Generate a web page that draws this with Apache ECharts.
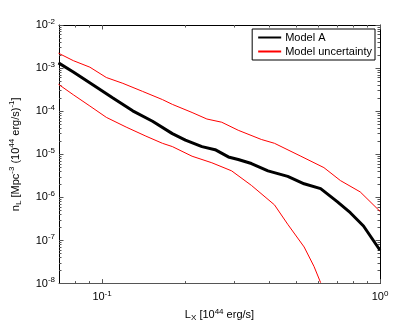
<!DOCTYPE html>
<html lang="en">
<head>
    <meta charset="UTF-8">
    <script src="https://cdn.jsdelivr.net/npm/echarts@6/dist/echarts.min.js"></script>
    <title>Model A</title>
    <style>
        html, body { margin: 0; padding: 0; background: #fff; }
    </style>
</head>
<body>
    <div id="main" style="width: 420px;height:327px;"></div>
    <script>
        // Model A (black)
        var modelAX = [0.0697, 0.0788, 0.0929, 0.1094, 0.1289, 0.1519, 0.1790, 0.1995, 0.2288, 0.2551, 0.2847,
            0.3090, 0.3446, 0.3953, 0.4656, 0.5333, 0.6115, 0.7014, 0.7819, 0.8722, 1.0];
        var modelA = [1.32e-3, 8.13e-4, 4.06e-4, 2.03e-4, 1.02e-4, 5.85e-5, 3.02e-5, 2.14e-5, 1.51e-5, 1.28e-5, 8.69e-6,
            7.59e-6, 6.10e-6, 4.13e-6, 3.07e-6, 2.07e-6, 1.60e-6, 7.96e-7, 4.41e-7, 2.17e-7, 5.93e-8];
        // upper uncertainty
        var upperX = [0.0697, 0.0788, 0.0904, 0.1036, 0.1188, 0.1399, 0.1649, 0.1790, 0.2108, 0.2383, 0.2695,
            0.3090, 0.3741, 0.4172, 0.5192, 0.6284, 0.7203, 0.8488, 1.0];
        var upper = [2.22e-3, 1.49e-3, 1.05e-3, 6.05e-4, 4.43e-4, 2.88e-4, 1.86e-4, 1.44e-4, 9.33e-5, 6.59e-5, 5.55e-5,
            3.61e-5, 2.21e-5, 1.80e-5, 9.02e-6, 4.91e-6, 2.46e-6, 1.34e-6, 4.74e-7];
        // lower uncertainty
        var lowerX = [0.0697, 0.0788, 0.0904, 0.1036, 0.1221, 0.1438, 0.1649, 0.1790, 0.2108, 0.2483, 0.2925,
            0.3446, 0.4172, 0.4656, 0.5333, 0.5787, 0.6115];
        var lower = [4.21e-4, 2.41e-4, 1.32e-4, 7.20e-5, 4.28e-5, 2.64e-5, 1.80e-5, 1.51e-5, 9.02e-6, 6.36e-6, 4.13e-6,
            1.90e-6, 6.71e-7, 2.38e-7, 7.08e-8, 2.51e-8, 1.05e-8];

        // tick values
        var xMajor = [0.1, 1];
        var xMinor = [0.08, 0.09, 0.2, 0.3, 0.4, 0.5, 0.6, 0.7, 0.8, 0.9];
        var yMajor = [1e-8, 1e-7, 1e-6, 1e-5, 1e-4, 1e-3, 1e-2];
        var yMinor = [];
        for (var e = -8; e < -2; e++) {
            for (var k = 2; k <= 9; k++) yMinor.push(k * Math.pow(10, e));
        }

        function pairs(xs, ys) {
            return xs.map(function (x, i) { return [x, ys[i]]; });
        }

        var font = 'Liberation Sans, Arial, Helvetica, sans-serif';
        var rich = {
            b: { fontSize: 11, fontFamily: font, color: '#000' },
            s: { fontSize: 8, fontFamily: font, color: '#000', padding: [0, 0, 7, 0] },
            d: { fontSize: 8, fontFamily: font, color: '#000', padding: [6, 0, 0, 0] }
        };
        function powLabel(v) {
            var ex = Math.round(Math.log10(v));
            return '{b|10}{s|' + ex + '}';
        }

        function xAx(pos, minor, labels) {
            return {
                type: 'log', position: pos, min: 0.07, max: 1, logBase: 10,
                axisLine: { show: !minor, onZero: false, lineStyle: { color: pos === 'bottom' ? '#555' : '#000', width: 1 } },
                axisTick: { show: true, inside: true, length: minor ? 2.5 : 4.5, customValues: minor ? xMinor : xMajor,
                    lineStyle: { color: '#555' } },
                axisLabel: labels ? { show: true, customValues: xMajor, formatter: powLabel, rich: rich, margin: 6 } : { show: false },
                splitLine: { show: false },
                minorTick: { show: false }
            };
        }
        function yAx(pos, minor, labels) {
            return {
                type: 'log', position: pos, min: 1e-8, max: 1e-2, logBase: 10,
                axisLine: { show: !minor, onZero: false, lineStyle: { color: '#000', width: 1 } },
                axisTick: { show: true, inside: true, length: minor ? 2.5 : 4.5, customValues: minor ? yMinor : yMajor,
                    lineStyle: { color: '#555' } },
                axisLabel: labels ? { show: true, customValues: yMajor, formatter: powLabel, rich: rich, margin: 4 } : { show: false },
                splitLine: { show: false },
                minorTick: { show: false }
            };
        }

        var xMain = xAx('bottom', false, true);
        xMain.name = '{b|L}{d|X}{b| [10}{s|44}{b| erg/s]}';
        xMain.nameLocation = 'middle';
        xMain.nameGap = 17;
        xMain.nameTextStyle = { rich: rich };

        var yMain = yAx('left', false, true);
        yMain.name = '{b|n}{d|L}{b| [Mpc}{s|-3}{b| (10}{s|44}{b| erg/s)}{s|-1}{b|]}';
        yMain.nameLocation = 'middle';
        yMain.nameGap = 36;
        yMain.nameTextStyle = { rich: rich };

        var myChart = echarts.init(document.getElementById('main'));
        var option = {
            backgroundColor: '#fff',
            animation: false,
            grid: { left: 55, right: 40, top: 25, bottom: 36.5 },
            legend: {
                orient: 'vertical',
                right: 45, top: 29,
                itemWidth: 23, itemHeight: 11, itemGap: 3,
                padding: [3, 3, 3, 5],
                backgroundColor: '#fff',
                borderColor: '#000', borderWidth: 1, borderRadius: 0,
                itemStyle: { opacity: 0 },
                textStyle: { fontSize: 11, fontFamily: font, color: '#000', padding: [0, 0, 0, -1] },
                data: ['Model A', 'Model uncertainty']
            },
            xAxis: [xMain, xAx('bottom', true, false), xAx('top', false, false), xAx('top', true, false)],
            yAxis: [yMain, yAx('left', true, false), yAx('right', false, false), yAx('right', true, false)],
            series: [
                {
                    name: 'Model A', type: 'line', symbol: 'none',
                    lineStyle: { color: '#000', width: 3 }, itemStyle: { color: '#000' },
                    data: pairs(modelAX, modelA)
                },
                {
                    name: 'Model uncertainty', type: 'line', symbol: 'none',
                    lineStyle: { color: '#ff0000', width: 1 }, itemStyle: { color: '#ff0000' },
                    data: pairs(upperX, upper)
                },
                {
                    name: 'Model uncertainty', type: 'line', symbol: 'none',
                    lineStyle: { color: '#ff0000', width: 1 }, itemStyle: { color: '#ff0000' },
                    data: pairs(lowerX, lower)
                }
            ]
        };
        myChart.setOption(option);
    </script>
</body>
</html>
